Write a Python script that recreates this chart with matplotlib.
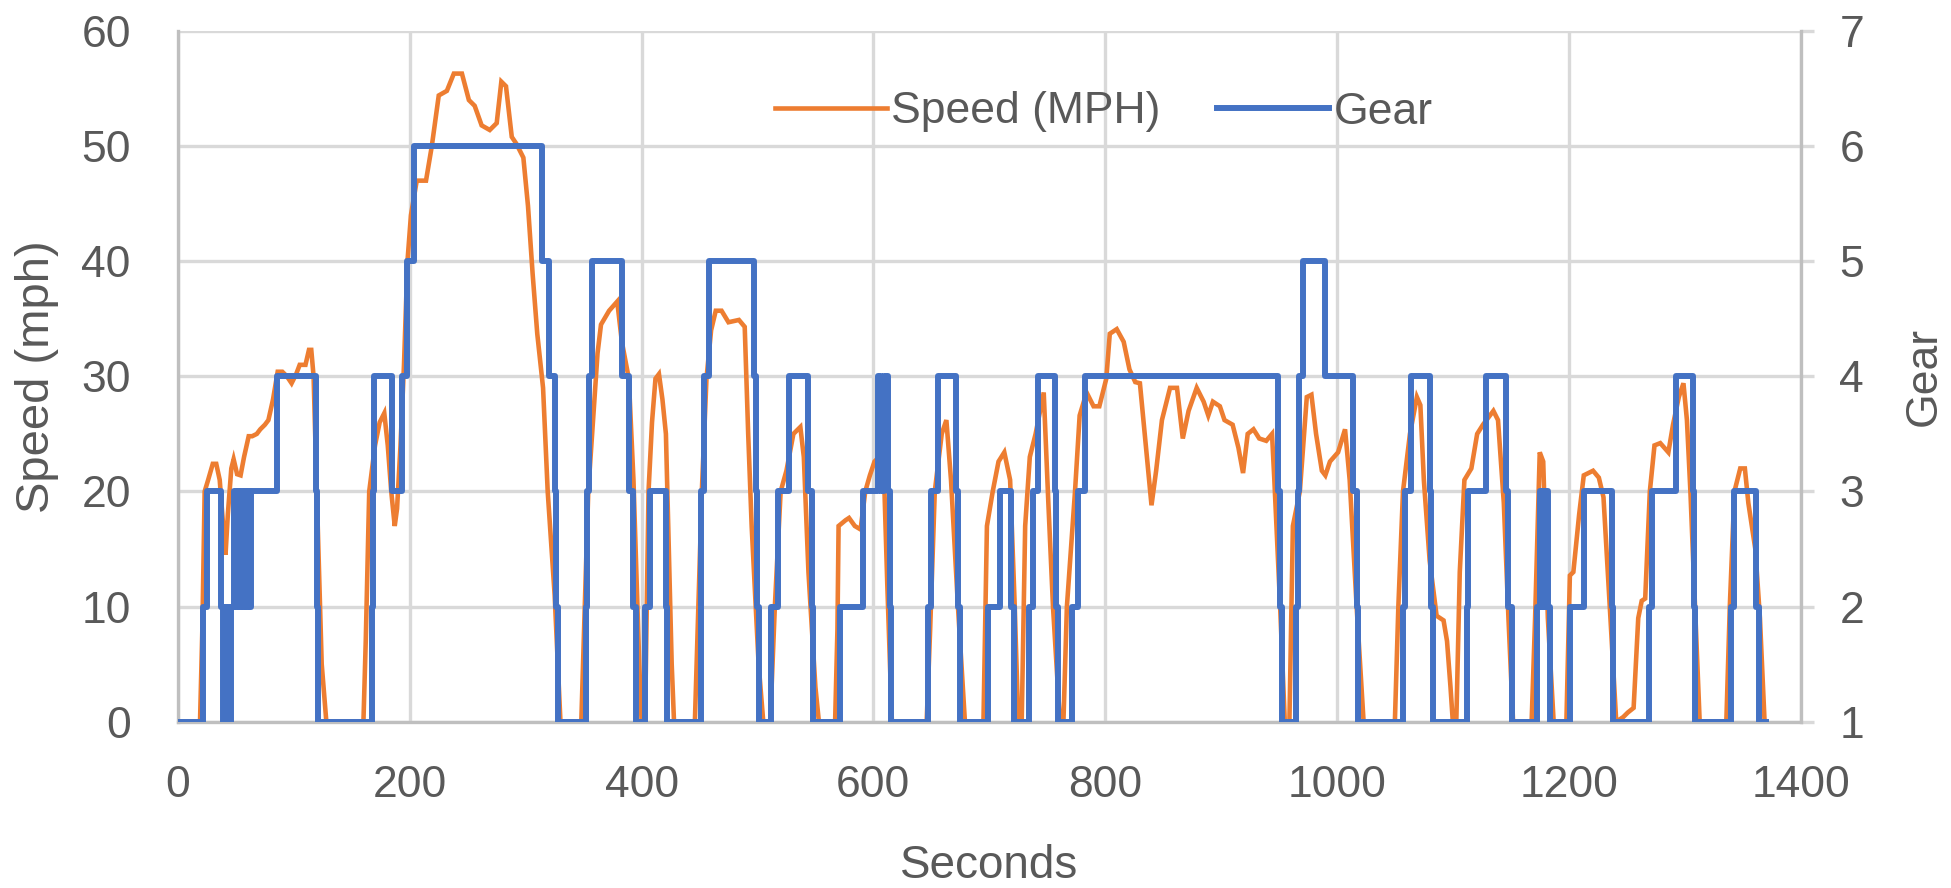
import matplotlib
matplotlib.use("Agg")
import matplotlib.pyplot as plt

plt.rcParams['font.family'] = ['Liberation Sans', 'DejaVu Sans']

# ---- data ----
speed_t = [0, 19, 21, 23, 26, 30, 33, 36, 39, 41, 43, 46, 48, 51, 54, 57, 61, 64, 68, 71,
           75, 78, 82, 86, 90, 94, 98, 102, 105, 110, 113, 115, 117, 120, 124, 128, 160, 162,
           165, 170, 174, 178, 181, 184, 187, 189, 192, 195, 198, 201, 206, 214, 219, 225,
           232, 238, 245, 251, 256, 262, 269, 275, 279, 283, 288, 292, 298, 302, 306, 310,
           315, 319, 325, 330, 348, 351, 354, 358, 362, 365, 372, 379, 383, 389, 393, 398,
           400, 403, 406, 409, 412, 415, 418, 421, 423, 426, 428, 446, 449, 452, 456, 460,
           464, 469, 475, 484, 489, 492, 495, 501, 505, 511, 515, 520, 525, 531, 537, 540,
           544, 550, 553, 567, 569, 570, 576, 579, 584, 589, 593, 597, 601, 605, 609, 612,
           616, 646, 649, 653, 659, 663, 667, 673, 679, 695, 698, 703, 708, 713, 718, 722,
           725, 728, 731, 735, 740, 747, 751, 755, 761, 764, 767, 774, 778, 784, 790, 795,
           801, 804, 810, 816, 821, 826, 830, 836, 840, 844, 849, 856, 862, 867, 872, 879,
           885, 889, 893, 899, 903, 910, 915, 919, 923, 928, 933, 939, 944, 946, 951, 955,
           959, 962, 968, 974, 978, 982, 987, 990, 994, 1001, 1007, 1011, 1017, 1023, 1050,
           1053, 1057, 1063, 1069, 1072, 1075, 1080, 1086, 1092, 1095, 1098, 1100, 1103,
           1106, 1110, 1116, 1121, 1126, 1135, 1139, 1144, 1148, 1152, 1168, 1171, 1175,
           1178, 1182, 1187, 1198, 1201, 1204, 1209, 1213, 1217, 1221, 1226, 1230, 1236,
           1241, 1247, 1251, 1256, 1260, 1263, 1266, 1270, 1274, 1279, 1286, 1290, 1295,
           1299, 1302, 1305, 1309, 1313, 1336, 1339, 1343, 1348, 1352, 1355, 1361, 1365, 1369]
speed_mph = [0, 0, 8, 20, 21, 22.4, 22.4, 21, 17, 14.5, 18, 22, 22.8, 21.5, 21.4, 23, 24.8, 24.8, 25, 25.4,
             25.8, 26.2, 28, 30.4, 30.4, 30, 29.4, 30.2, 31, 31, 32.3, 32.3, 30, 19, 5, 0, 0, 7,
             20, 24, 26, 26.8, 24, 20, 17, 18.5, 24, 31, 40, 44, 47, 47, 50, 54.4,
             54.8, 56.3, 56.3, 54, 53.5, 51.8, 51.4, 52, 55.6, 55.2, 50.8, 50.2, 49, 44.8, 38.9, 33.7,
             29, 20, 11, 0, 0, 10, 20, 26, 32, 34.5, 35.7, 36.5, 33, 29.8, 21, 5,
             0, 0, 20, 26, 29.8, 30.2, 28, 25, 17, 5, 0, 0, 10, 20, 29.8, 34,
             35.7, 35.7, 34.7, 34.9, 34.3, 25, 17, 5, 0, 0, 10, 20, 21.8, 25, 25.6, 23,
             13, 3, 0, 0, 8, 17, 17.5, 17.7, 17, 16.7, 20, 21.4, 22.6, 23, 22, 12,
             0, 0, 8, 20, 25, 26.2, 21, 10, 0, 0, 17, 20, 22.6, 23.4, 21, 10,
             0, 0, 17, 23, 25, 28.6, 19, 10, 0, 0, 10, 20, 26.6, 28.6, 27.4, 27.4,
             29.8, 33.7, 34.1, 33, 30.6, 29.5, 29.4, 23, 18.8, 21.8, 26.2, 29, 29, 24.6, 27, 29,
             27.8, 26.6, 27.8, 27.4, 26.2, 25.8, 23.8, 21.6, 25, 25.4, 24.6, 24.4, 25, 21, 10, 0,
             0, 17, 20, 28.2, 28.4, 25, 21.8, 21.4, 22.6, 23.4, 25.4, 21, 10, 0, 0,
             10, 20, 25, 28.2, 27.5, 21, 14, 9.2, 8.8, 7, 3, 0, 0,
             13, 21, 22, 25, 25.8, 27, 26.2, 19, 9, 0, 0, 9, 23.4,
             22.6, 9, 0, 0, 12.7, 13, 18, 21.4, 21.6, 21.8, 21.2, 19.5, 9,
             0, 0.4, 0.8, 1.2, 9, 10.5, 10.7, 20, 24, 24.2, 23.4, 25.8, 28.2,
             29.4, 26.2, 20, 10, 0, 0, 10, 20, 22, 22, 19, 15, 9, 0]

gear_t = [0, 22, 25, 37, 38.5, 40, 41.5, 43, 44.5, 46, 48, 50, 51.5, 53, 54.5, 56, 57.5, 59,
          60.5, 62, 63, 85, 119.5, 120, 120.5, 167, 168, 169.5, 185, 193.5, 198, 203.5, 314,
          320, 325, 326.5, 328, 352, 353, 355, 357.5, 383, 389, 393, 395, 403, 407, 421, 422,
          451, 454, 458, 497, 499, 500, 501, 512, 518, 527, 544, 547, 548, 571, 591, 604, 607,
          609, 613, 614, 615, 647, 650, 656, 671, 673, 675, 699, 709, 719, 721, 734, 738, 742,
          757, 758, 759, 771, 777, 782.5, 949, 951, 953, 965, 966, 967.5, 971, 989.5, 1014,
          1017, 1018, 1057, 1059, 1064, 1080, 1081.5, 1083, 1112, 1113, 1129, 1146, 1148,
          1151, 1173, 1175, 1176, 1177.5, 1179, 1180.5, 1182, 1184, 1201, 1213, 1237, 1238,
          1269, 1272, 1293, 1307, 1308, 1309, 1340, 1343, 1362, 1364, 1370]
gear = [1, 2, 3, 2, 1, 2, 1, 2, 1, 2, 3, 2, 3, 2, 3, 2, 3, 2,
        3, 2, 3, 4, 3, 2, 1, 2, 3, 4, 3, 4, 5, 6, 5,
        4, 3, 2, 1, 2, 3, 4, 5, 4, 3, 2, 1, 2, 3, 2, 1,
        3, 4, 5, 4, 3, 2, 1, 2, 3, 4, 3, 2, 1, 2, 3, 4, 3,
        4, 3, 2, 1, 2, 3, 4, 3, 2, 1, 2, 3, 2, 1, 2, 3, 4,
        3, 2, 1, 2, 3, 4, 3, 2, 1, 2, 3, 4, 5, 4, 3,
        2, 1, 2, 3, 4, 3, 2, 1, 2, 3, 4, 3, 2,
        1, 2, 3, 2, 3, 2, 3, 2, 1, 2, 3, 2, 1,
        2, 3, 4, 3, 2, 1, 2, 3, 2, 1, 1]

x_ticks = [0, 200, 400, 600, 800, 1000, 1200, 1400]
speed_ticks = [0, 10, 20, 30, 40, 50, 60]
gear_ticks = [1, 2, 3, 4, 5, 6, 7]

# ---- styling ----
W, H = 1951, 888
TXT = '#595959'
GRID = '#D9D9D9'
SPINE = '#BFBFBF'
ORANGE = '#ED7D31'
BLUE = '#4472C4'

fig = plt.figure(figsize=(W / 100, H / 100), dpi=100)
x0, x1 = 178, 1800.5
y0, y1 = 31, 721.7
ax = fig.add_axes([x0 / W, 1 - y1 / H, (x1 - x0) / W, (y1 - y0) / H])
ax2 = ax.twinx()

ln1, = ax.plot(speed_t, speed_mph, color=ORANGE, lw=3.3, label='Speed (MPH)', zorder=3,
               solid_joinstyle='miter')
ln2, = ax2.plot(gear_t, gear, color=BLUE, lw=4.3, drawstyle='steps-post', label='Gear', zorder=3)

ax.set_xlim(0, 1400)
ax.set_ylim(0, 60)
ax2.set_ylim(1, 7)
ax.set_xticks(x_ticks)
ax.set_yticks(speed_ticks)
ax2.set_yticks(gear_ticks)

ax.grid(True, color=GRID, lw=2.4, zorder=0)
ax.set_axisbelow(True)

for s in ['top', 'right']:
    ax.spines[s].set_visible(False)
for s in ['top', 'left', 'bottom']:
    ax2.spines[s].set_visible(False)
for s in ['left', 'bottom']:
    ax.spines[s].set_color(SPINE)
    ax.spines[s].set_linewidth(2.4)
ax2.spines['right'].set_color(SPINE)
ax2.spines['right'].set_linewidth(2.4)

ax.tick_params(axis='y', length=0, pad=34, labelsize=32, labelcolor=TXT)
ax.tick_params(axis='x', length=0, pad=31, labelsize=32, labelcolor=TXT)
ax2.tick_params(axis='y', length=9, width=2.4, color=GRID, pad=19, labelsize=32, labelcolor=TXT)

ax.set_xlabel('Seconds', fontsize=33, color=TXT, va='center')
ax.xaxis.set_label_coords(0.5, (y1 - 866) / (y1 - y0))
ax.set_ylabel('Speed (mph)', fontsize=34, color=TXT, va='center')
ax.yaxis.set_label_coords((37 - x0) / (x1 - x0), 0.5)
ax2.set_ylabel('Gear', fontsize=32, color=TXT, va='center', rotation=90)
ax2.yaxis.set_label_coords((1924 - x0) / (x1 - x0), 0.5)

leg = ax2.legend([ln1, ln2], ['Speed (MPH)', 'Gear'], loc='center left',
                 bbox_to_anchor=((775 - x0) / (x1 - x0), (y1 - 112) / (y1 - y0)),
                 ncol=2, frameon=False, fontsize=32, handlelength=2.52,
                 handletextpad=0.1, columnspacing=1.26, borderpad=0, borderaxespad=0)
for t in leg.get_texts():
    t.set_color(TXT)

fig.savefig('out.png', dpi=100)
